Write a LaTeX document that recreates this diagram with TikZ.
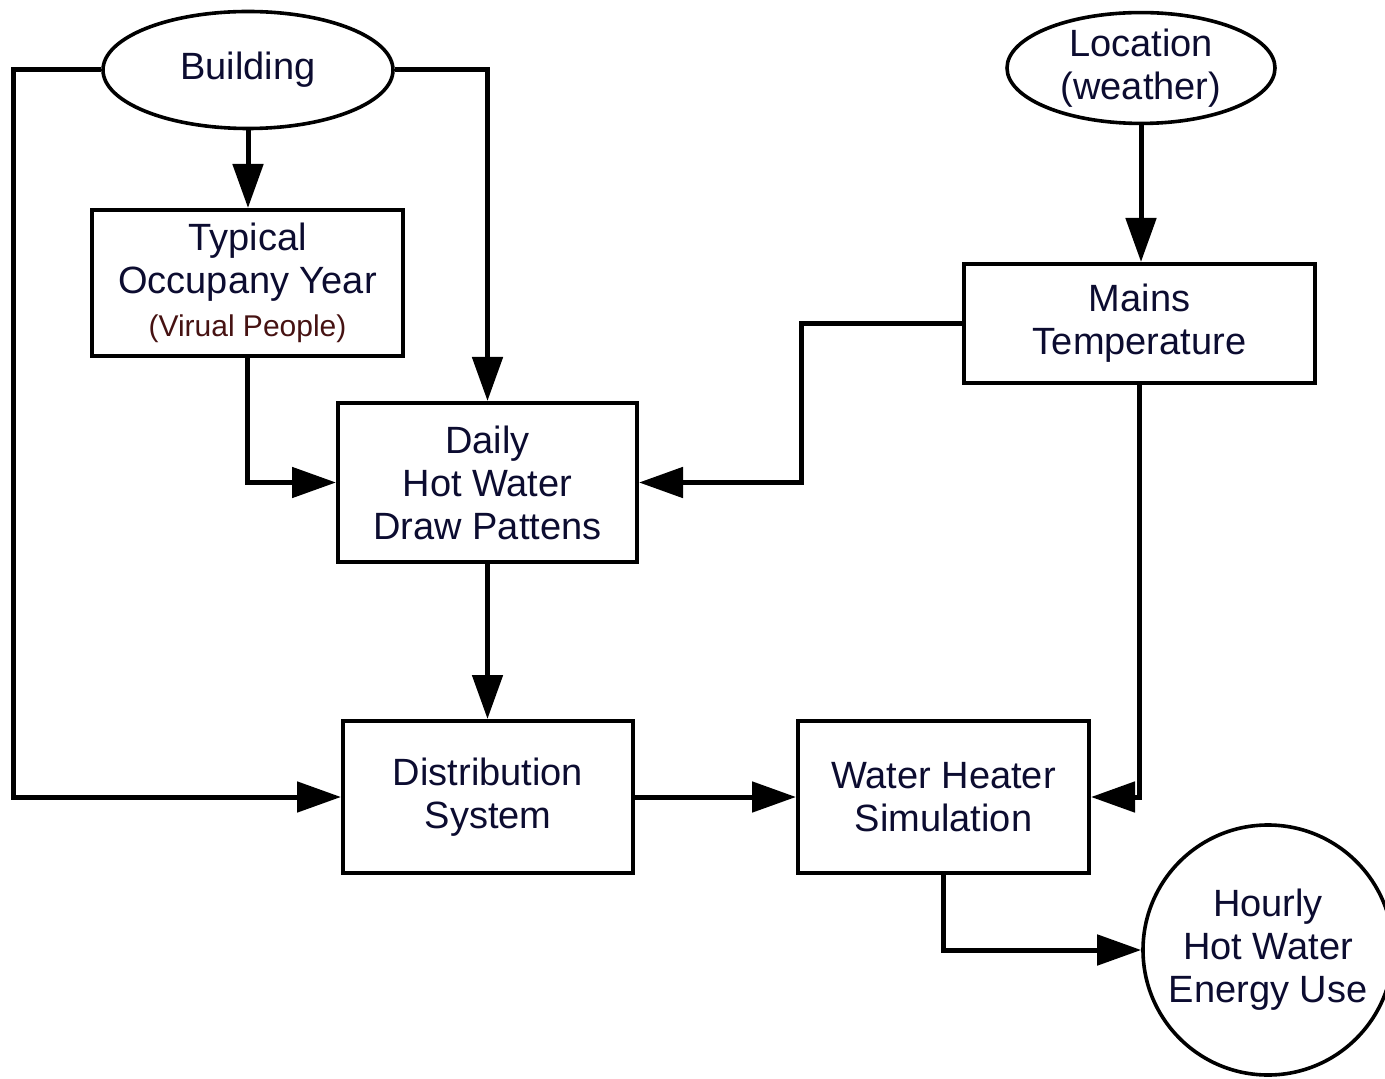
\documentclass[tikz,border=0pt]{standalone}
\usepackage{fontspec}
\setmainfont{Liberation Sans}
\usepackage{xcolor}
\usetikzlibrary{arrows.meta, shapes.geometric, positioning}
\definecolor{txtnavy}{RGB}{12,12,48}
\definecolor{txtbrown}{RGB}{70,18,18}

\begin{document}
\begin{tikzpicture}[x=0.5pt,y=0.5pt,yscale=-1,xscale=1,
  blk/.style={draw, line width=2pt, rectangle, align=center, text=txtnavy,
    font=\fontsize{19}{21.5}\selectfont, inner sep=0pt},
  oval/.style={draw, line width=1.8pt, ellipse, align=center, text=txtnavy,
    font=\fontsize{19}{21.5}\selectfont, inner sep=0pt},
  conn/.style={line width=2.5pt, -{Triangle[length=22pt,width=15pt]}}]
\useasboundingbox (0,0) rectangle (1385,1079);

%Shape: Ellipse [building]
\node [oval, minimum width=145pt, minimum height=58.5pt] (building) at (248,70) {Building};
%Shape: Ellipse [location]
\node [oval, minimum width=134pt, minimum height=53.5pt] (location) at (1141,68) {Location\\(weather)};
%Shape: Rectangle [typical]
\node [blk, minimum width=155.5pt, minimum height=73pt] (typical) at (247.5,283)
  {Typical\\Occupany Year\\{\fontsize{15}{18}\selectfont\color{txtbrown}(Virual People)}};
%Shape: Rectangle [daily]
\node [blk, minimum width=149.5pt, minimum height=79.5pt] (daily) at (487.5,482.5) {Daily\\Hot Water\\Draw Pattens};
%Shape: Rectangle [mains]
\node [blk, minimum width=175.5pt, minimum height=59.5pt] (mains) at (1139.5,323.5) {Mains\\Temperature};
%Shape: Rectangle [dist]
\node [blk, minimum width=145pt, minimum height=76pt] (dist) at (488,797) {Distribution\\System};
%Shape: Rectangle [heater]
\node [blk, minimum width=145.5pt, minimum height=76pt] (heater) at (943.5,797) {Water Heater\\Simulation};
%Shape: Circle [hourly]
\node [oval, circle, minimum size=125pt] (hourly) at (1268,950) {Hourly\\Hot Water\\Energy Use};

%Straight Lines
\draw [conn] (building.west) -- ++(-88,0) |- (dist.west);
\draw [conn] (building.east) -| (daily.north);
\draw [conn] (building.south) -- (building.south |- typical.north);
\draw [conn] (typical.south) |- (daily.west);
\draw [conn] (mains.west) -- ++(-161,0) |- (daily.east);
\draw [conn] (location.south) -- (location.south |- mains.north);
\draw [conn] (daily.south) -- (daily.south |- dist.north);
\draw [conn] (dist.east) -- (heater.west);
\draw [conn] (mains.south) |- (heater.east);
\draw [conn] (heater.south) |- (hourly.west);

\end{tikzpicture}
\end{document}
